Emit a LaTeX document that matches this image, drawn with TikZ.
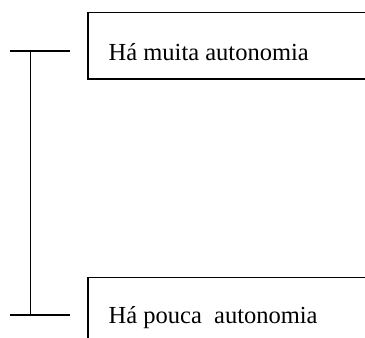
\documentclass[tikz,border=0pt]{standalone}
\usepackage{fontspec}
\setmainfont{Liberation Serif}
\begin{document}
\begin{tikzpicture}[x=1pt,y=1pt,
  boxline/.style={line width=1.1pt},
  tickline/.style={line width=1.1pt},
  lbl/.style={anchor=base west,inner sep=0pt,font=\fontsize{24.5}{28}\selectfont}]
\useasboundingbox (0,0) rectangle (365,338);
\clip (0,0) rectangle (365,338);
% boxes
\draw[boxline] (380,325.5) -- (88,325.5) -- (88,259) -- (380,259);
\draw[boxline] (380,60.5) -- (88,60.5) -- (88,-20);
% texts
\node[lbl] (muita) at (108.5,277) {Há muita autonomia};
\node[lbl] (pouca) at (108.5,14) {Há pouca\ \ autonomia};
% scale
\coordinate (tl) at (10,287);
\coordinate (tr) at (70,287);
\coordinate (tm) at (30.5,287);
\coordinate (bl) at (10,23);
\coordinate (br) at (70,23);
\coordinate (bm) at (30.5,23);
\draw[tickline] (tl) -- (tr);
\draw[tickline] (bl) -- (br);
\draw[tickline] (tm) -- (bm);
\end{tikzpicture}
\end{document}
